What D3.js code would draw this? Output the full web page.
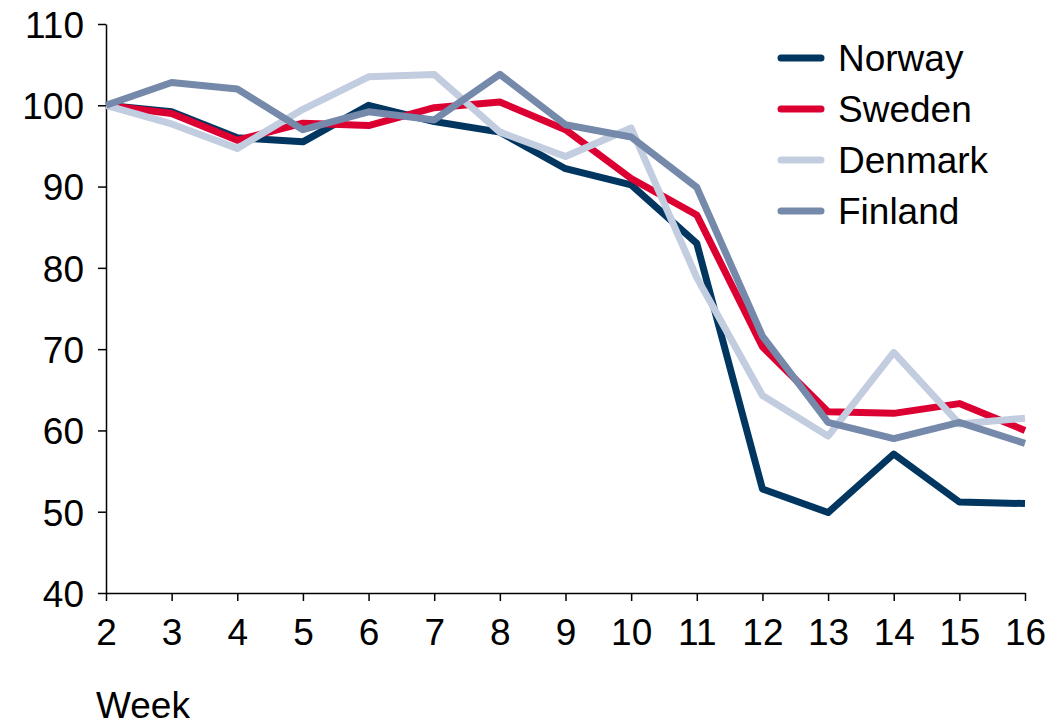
<!DOCTYPE html>
<html>
<head>
<meta charset="utf-8">
<script src="https://cdn.jsdelivr.net/npm/d3@7"></script>
<style>
    body { margin: 0; background: #fff; }
    text { font-family: "Liberation Sans", Arial, sans-serif; fill: #000; }
</style>
</head>
<body>
<div id="chart"></div>
<script>
"use strict";

const weeks = [2, 3, 4, 5, 6, 7, 8, 9, 10, 11, 12, 13, 14, 15, 16];
const norway  = [100, 99.2, 96.0, 95.5, 100, 98.0, 96.7, 92.2, 90.2, 83.0, 52.8, 49.9, 57.1, 51.2, 51.0];
const sweden  = [100, 99.0, 95.7, 97.8, 97.5, 99.7, 100.4, 97.0, 91.0, 86.5, 70.3, 62.3, 62.1, 63.3, 60.0];
const denmark = [100, 97.7, 94.7, 99.5, 103.5, 103.8, 96.7, 93.7, 97.2, 78.8, 64.3, 59.3, 69.6, 60.8, 61.5];
const finland = [100, 102.8, 102.0, 97.0, 99.2, 98.2, 103.8, 97.6, 96.1, 89.9, 71.6, 61.0, 59.0, 61.0, 58.4];
const seriesNames = ["Norway", "Sweden", "Denmark", "Finland"];
const seriesColors = ["#003660", "#dc0032", "#c3cde0", "#7589aa"];
const yTicks = [40, 50, 60, 70, 80, 90, 100, 110];

const msm = {
    width: 1050,
    height: 728,
    left: 106,
    right: 25,
    top: 24,
    bottom: 135
}

let svgContainer = d3.select("#chart")
    .append("svg")
    .attr("width", msm.width)
    .attr("height", msm.height);

let xScale = d3.scaleLinear()
    .domain([2, 16])
    .range([msm.left, msm.width - msm.right]);

let yScale = d3.scaleLinear()
    .domain([40, 110])
    .range([msm.height - msm.bottom, msm.top]);

// axes
let xAxis = svgContainer.append("g")
    .attr("transform", "translate(0," + (msm.height - msm.bottom) + ")")
    .call(d3.axisBottom(xScale).tickValues(weeks).tickFormat(d3.format("d")).tickSize(8).tickSizeOuter(0).tickPadding(13));

let yAxis = svgContainer.append("g")
    .attr("transform", "translate(" + msm.left + ",0)")
    .call(d3.axisLeft(yScale).tickValues(yTicks).tickSize(8).tickSizeOuter(0).tickPadding(14));

[xAxis, yAxis].forEach((ax) => {
    ax.select(".domain").attr("stroke", "#000").attr("stroke-width", 1.5);
    ax.selectAll(".tick line").attr("stroke", "#000").attr("stroke-width", 1.5);
    ax.selectAll(".tick text")
        .style("font-family", "'Liberation Sans', Arial, sans-serif")
        .style("font-size", "37px")
        .attr("fill", "#000");
});
yAxis.selectAll(".tick text").attr("dy", "0.36em");
xAxis.selectAll(".tick text").attr("dy", "0.85em");

// x axis title
svgContainer.append("text")
    .attr("x", 96)
    .attr("y", 718)
    .style("font-size", "37px")
    .text("Week");

// lines
const allSeries = [norway, sweden, denmark, finland];
let line = d3.line()
    .x((d, i) => xScale(weeks[i]))
    .y((d) => yScale(d));

allSeries.forEach((values, k) => {
    svgContainer.append("path")
        .datum(values)
        .attr("fill", "none")
        .attr("stroke", seriesColors[k])
        .attr("stroke-width", 7)
        .attr("stroke-linejoin", "round")
        .attr("d", line);
});

// legend
let legend = svgContainer.append("g")
    .attr("transform", "translate(778, 58)");

seriesNames.forEach((name, k) => {
    let row = legend.append("g").attr("transform", "translate(0," + (k * 51) + ")");
    row.append("line")
        .attr("x1", 3).attr("x2", 43)
        .attr("y1", 0).attr("y2", 0)
        .attr("stroke", seriesColors[k])
        .attr("stroke-width", 7)
        .attr("stroke-linecap", "round");
    row.append("text")
        .attr("x", 60)
        .attr("y", 0)
        .attr("dy", "0.35em")
        .style("font-size", "37px")
        .text(name);
});
</script>
</body>
</html>
